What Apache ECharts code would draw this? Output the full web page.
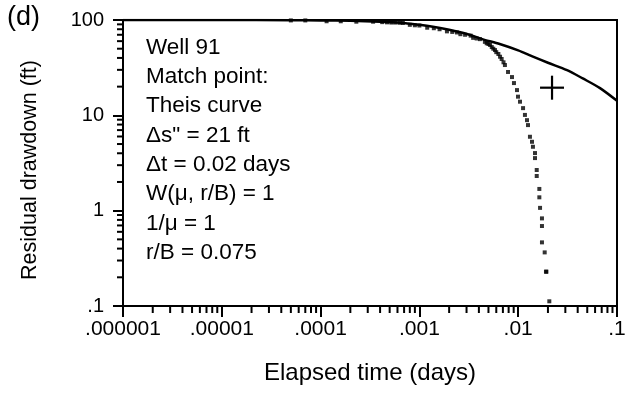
<!DOCTYPE html>
<html><head><meta charset="utf-8">
<script src="https://cdn.jsdelivr.net/npm/echarts@6/dist/echarts.min.js"></script>
<style>html,body{margin:0;padding:0;background:#fff}#c{width:643px;height:397px}</style>
</head><body><div id="c"></div>
<script>
const xTickLabels = ['.000001', '.00001', '.0001', '.001', '.01', '.1'];
const yTickLabels = ['.1', '1', '10', '100'];

// Theis type curve (matched)
const theisT = [1e-6, 1e-5, 5e-5, 1e-4, 2e-4, 4e-4, 6.4e-4, 1e-3, 1.37e-3, 2e-3, 3.03e-3, 4.4e-3, 6.5e-3, 0.01, 0.0141, 0.02, 0.0312, 0.045, 0.0673, 0.1];
const theisS = [100, 100, 99.6, 99, 98, 96, 93.7, 89, 85, 79, 71.3, 62.7, 56, 48, 41.2, 35.6, 29.8, 24.4, 19.3, 14.2];

// Observed residual drawdown, Well 91
const obsT = [5e-5, 7e-5, 1.15e-4, 1.6e-4, 2.3e-4, 3.4e-4, 4.2e-4, 4.7e-4, 5.2e-4, 5.7e-4, 6.3e-4, 6.8e-4, 8e-4, 9e-4, 1e-3, 1.2e-3, 1.4e-3, 1.6e-3, 1.9e-3, 2.15e-3, 2.4e-3, 2.6e-3, 2.9e-3, 3.3e-3, 3.5e-3, 3.8e-3, 4.1e-3, 4.6e-3, 4.8e-3, 5.0e-3, 5.19e-3, 5.4e-3, 5.6e-3, 5.82e-3, 6.0e-3, 6.3e-3, 6.55e-3, 6.8e-3, 7.1e-3, 7.34e-3, 7.89e-3, 8.65e-3, 9.06e-3, 9.72e-3, 9.95e-3, 0.01043, 0.0112, 0.0117, 0.01227, 0.01256, 0.01315, 0.0138, 0.0141, 0.0148, 0.0148, 0.0154, 0.0154, 0.01637, 0.01637, 0.01664, 0.0174, 0.0174, 0.0174, 0.01854, 0.0191, 0.0193, 0.02065];
const obsS = [99, 99, 97, 97, 96, 96, 95, 94.5, 94, 94, 93.5, 93, 89, 88, 87.5, 83, 82, 80, 76, 75, 74, 71, 70, 68.5, 65, 64, 63, 59, 57, 56, 54.7, 52, 50, 48.4, 46, 44, 41.2, 39, 36, 33.7, 28.5, 25.2, 21.8, 18.4, 15.7, 13.9, 11.9, 10.1, 8.9, 7.9, 5.96, 5.28, 4.68, 4.02, 3.56, 2.67, 2.31, 1.69, 1.38, 1.07, 0.83, 0.69, 0.465, 0.365, 0.229, 0.229, 0.112];

// Match point
const matchT = [0.022];
const matchS = [19.5];

const noteLines = ['Well 91', 'Match point:', 'Theis curve', 'Δs" = 21 ft', 'Δt = 0.02 days', 'W(μ, r/B) = 1', '1/μ = 1', 'r/B = 0.075'];

const FONT = '"Liberation Sans", Arial, Helvetica, sans-serif';
const INK = '#000';

// minor tick values (2..9 per decade)
const xMinor = [], yMinor = [];
for (let k = -6; k <= -2; k++) for (let m = 2; m <= 9; m++) xMinor.push(m * Math.pow(10, k));
for (let k = -1; k <= 1; k++) for (let m = 2; m <= 9; m++) yMinor.push(m * Math.pow(10, k));

const chart = echarts.init(document.getElementById('c'), null, {renderer: 'canvas'});
chart.setOption({
  animation: false,
  backgroundColor: '#fff',
  grid: {left: 123, right: 26, top: 20, bottom: 91, show: true, borderColor: INK, borderWidth: 2, backgroundColor: 'transparent'},
  xAxis: {
    type: 'log', logBase: 10, min: 1e-6, max: 0.1,
    name: 'Elapsed time (days)', nameLocation: 'middle', nameGap: 55,
    nameTextStyle: {fontFamily: FONT, fontSize: 24, color: INK},
    axisLine: {show: true, lineStyle: {color: INK, width: 2}},
    axisTick: {show: true, inside: false, length: 11, lineStyle: {color: INK, width: 2}},
    minorTick: {show: false},
    splitLine: {show: false},
    axisLabel: {margin: 13, fontFamily: FONT, fontSize: 21, color: INK,
      formatter: v => xTickLabels[Math.round(Math.log10(v)) + 6]}
  },
  yAxis: {
    type: 'log', logBase: 10, min: 0.1, max: 100,
    name: 'Residual drawdown (ft)', nameLocation: 'middle', nameGap: 82,
    nameTextStyle: {fontFamily: FONT, fontSize: 21.5, color: INK, padding: [0, 14, 0, 0]},
    axisLine: {show: true, lineStyle: {color: INK, width: 2}},
    axisTick: {show: true, inside: false, length: 10, lineStyle: {color: INK, width: 2}},
    splitLine: {show: false},
    axisLabel: {margin: 19, fontFamily: FONT, fontSize: 20, color: INK,
      formatter: v => yTickLabels[Math.round(Math.log10(v)) + 1]}
  },
  graphic: [
    {type: 'text', left: 7, top: 4, style: {text: '(d)', font: '27px ' + FONT, fill: INK}},
    {type: 'text', left: 146, top: 33, style: {text: noteLines.join('\n'), font: '22.5px ' + FONT, lineHeight: 29.3, fill: INK}}
  ],
  series: [
    {
      type: 'line', name: 'Theis curve', data: theisT.map((t, i) => [t, theisS[i]]),
      showSymbol: false, smooth: 0.3, lineStyle: {color: INK, width: 2.5}, z: 3
    },
    {
      type: 'scatter', name: 'Well 91', data: obsT.map((t, i) => [t, obsS[i]]),
      symbol: 'rect', symbolSize: 4, itemStyle: {color: INK}, z: 4
    },
    {
      type: 'custom', name: 'Match point', data: matchT.map((t, i) => [t, matchS[i]]),
      renderItem: (params, api) => {
        const p = api.coord([api.value(0), api.value(1)]);
        const st = {stroke: INK, lineWidth: 2.2};
        return {type: 'group', children: [
          {type: 'line', shape: {x1: p[0] - 12, y1: p[1], x2: p[0] + 12, y2: p[1]}, style: st},
          {type: 'line', shape: {x1: p[0], y1: p[1] - 12, x2: p[0], y2: p[1] + 12}, style: st}
        ]};
      }, z: 5
    },
    {
      type: 'custom', name: 'xMinor', clip: false, silent: true,
      data: xMinor.map(v => [v, 0.1]),
      renderItem: (params, api) => {
        const p = api.coord([api.value(0), api.value(1)]);
        return {type: 'line', shape: {x1: p[0], y1: p[1], x2: p[0], y2: p[1] + 7}, style: {stroke: INK, lineWidth: 2}};
      }
    },
    {
      type: 'custom', name: 'yMinor', clip: false, silent: true,
      data: yMinor.map(v => [1e-6, v]),
      renderItem: (params, api) => {
        const p = api.coord([api.value(0), api.value(1)]);
        return {type: 'line', shape: {x1: p[0] - 6, y1: p[1], x2: p[0], y2: p[1]}, style: {stroke: INK, lineWidth: 2}};
      }
    }
  ]
});
</script></body></html>
